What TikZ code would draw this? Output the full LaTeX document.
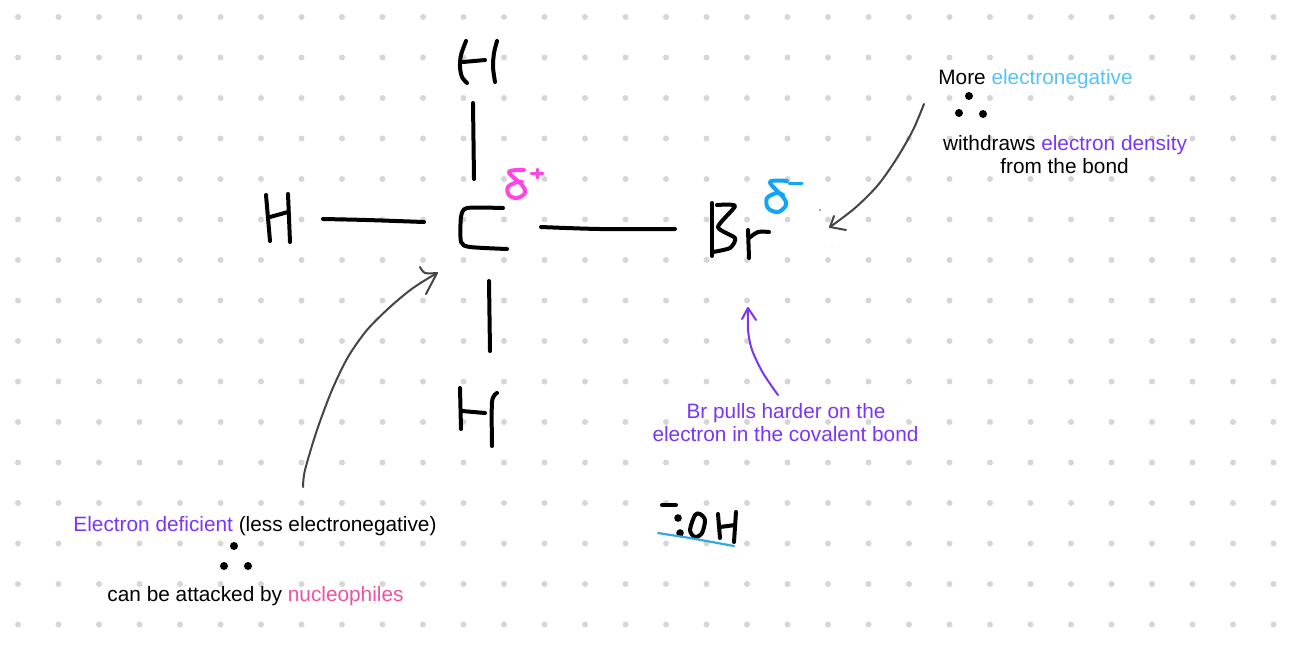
\documentclass[tikz,border=0pt]{standalone}
\usepackage{fontspec}
\setmainfont{Liberation Sans}
\usetikzlibrary{positioning}
\definecolor{griddot}{HTML}{D6D6D6}
\definecolor{pencil}{HTML}{444444}
\definecolor{violettext}{HTML}{7B35F5}
\definecolor{skytext}{HTML}{55C3F5}
\definecolor{pinktext}{HTML}{EC52A4}
\definecolor{deltaplus}{HTML}{FF45E6}
\definecolor{deltaminus}{HTML}{12A5F5}
\definecolor{underline}{HTML}{35A8DE}

\begin{document}
\begin{tikzpicture}[x=0.5pt, y=-0.5pt,
    ink/.style={black, line width=2pt, line cap=round, line join=round},
    thinink/.style={pencil, line width=1pt, line cap=round, line join=round},
    deltaink/.style={line width=2pt, line cap=round, line join=round},
    note/.style={font=\fontsize{10.4}{12}\selectfont, text=black, inner sep=0pt}]
  \useasboundingbox (0,0) rectangle (1290,655);

  % paper
  \foreach \i in {0,...,31}
    \foreach \j in {0,...,15}
      \fill[griddot] ({18+40.5*\i},{17+40.5*\j}) circle (1.5pt);

  % H on top
  \draw[ink] plot[smooth] coordinates {(466,41) (461,55) (460,67) (462,77) (467,83)};
  \draw[ink] (463,62) -- (485,60);
  \draw[ink] plot[smooth] coordinates {(497,41) (494,53) (493,67) (495,82)};
  \draw[ink] (473,103) -- (474,179);

  % H on the left
  \draw[ink] (266,195) -- (270,241);
  \draw[ink] (270,217) -- (288,212);
  \draw[ink] (288,194) -- (290,242);
  \draw[ink] plot[smooth] coordinates {(323,219) (367,220) (424,222)};

  % C
  \draw[ink] plot[smooth, tension=0.4] coordinates {(503,208) (467,208) (461,217) (461,242) (470,247) (507,249)};
  \draw[deltaink, deltaplus] plot[smooth, tension=0.6] coordinates {(524,170) (509,172) (522,185) (525,193) (517,198) (509,195) (508,187) (517,182) (522,182)};
  \draw[deltaink, deltaplus, line width=1.5pt] (531,173) -- (543,173) (537,169) -- (537,178);

  % bond to Br
  \draw[ink] plot[smooth] coordinates {(541,227) (600,229) (675,229)};

  % H below
  \draw[ink] (489,281) -- (490,351);
  \draw[ink] (460,388) -- (461,429);
  \draw[ink] (462,411) -- (485,413);
  \draw[ink] plot[smooth] coordinates {(497,393) (492,402) (492,446)};

  % Br
  \draw[ink] (712,203) -- (712,256);
  \draw[ink] plot[smooth, tension=0.4] coordinates {(717,205) (735,206) (718,227) (735,238) (730,248) (713,252)};
  \draw[ink] (748,230) -- (749,258);
  \draw[ink] plot[smooth] coordinates {(749,238) (758,232) (769,232)};
  \draw[deltaink, deltaminus] plot[smooth, tension=0.6] coordinates {(787,181) (770,182) (783,197) (786,205) (778,212) (768,208) (767,198) (777,193) (783,195)};
  \draw[deltaink, deltaminus, line width=1.5pt] (789,183) -- (802,183);
  \fill[pencil] (820,210) circle (0.4pt);
  \fill[griddot] (832,247) circle (0.35pt);

  % notes
  \node[note] (more) at (1035.5,79.5) {More \textcolor{skytext}{electronegative}};
  \node[note] (withdraws) at (1065,145) {withdraws \textcolor{violettext}{electron density}};
  \node[note] (frombond) at (1064.5,166) {from the bond};
  \node[note, text=violettext] (pulls) at (786,413) {Br pulls harder on the};
  \node[note, text=violettext] (covalent) at (785.5,434) {electron in the covalent bond};
  \node[note] (deficient) at (255,526) {\textcolor{violettext}{Electron deficient} (less electronegative)};
  \node[note] (attacked) at (255.5,596.5) {can be attacked by \textcolor{pinktext}{nucleophiles}};

  \foreach \x/\y in {969/96, 959/113, 983/114, 234/546, 224/566, 248/566}
    \fill[black] (\x,\y) circle (2pt);

  % arrows
  \coordinate (tailC) at (303,487);
  \coordinate (tipC) at (437,273);
  \coordinate (tailBr) at (924,104);
  \coordinate (tipBr) at (830,227);
  \coordinate (tailPull) at (778,395);
  \coordinate (tipPull) at (748,308);
  \draw[thinink] plot[smooth] coordinates {(tailC) (305,470) (317,430) (332,390) (348,357) (367,330) (390,307) (413,288) (tipC)};
  \draw[thinink] plot[smooth] coordinates {(420,267) (425,273) (tipC)};
  \draw[thinink] (tipC) -- (426,294);
  \draw[thinink] plot[smooth] coordinates {(tailBr) (913,130) (897,158) (878,185) (855,208) (tipBr)};
  \draw[thinink] (834,216) -- (tipBr) -- (846,230);
  \draw[thinink, violettext] plot[smooth] coordinates {(tailPull) (763,373) (752,350) (748,330) (tipPull)};
  \draw[thinink, violettext] (742,319) -- (tipPull) -- (756,320);

  % hydroxide
  \draw[ink] (662,505) -- (676,505);
  \fill[black] (678,518) circle (1.9pt) (680,533) circle (1.9pt);
  \draw[ink] plot[smooth cycle] coordinates {(695,515) (690,530) (695,537) (702,533) (705,520) (700,514)};
  \draw[ink] (718,514) -- (720,538);
  \draw[ink] (720,527) -- (735,525);
  \draw[ink] (736,512) -- (734,542);
  \draw[underline, line width=1.1pt, line cap=round] (658,533) -- (690,538) -- (734,546);
\end{tikzpicture}
\end{document}
